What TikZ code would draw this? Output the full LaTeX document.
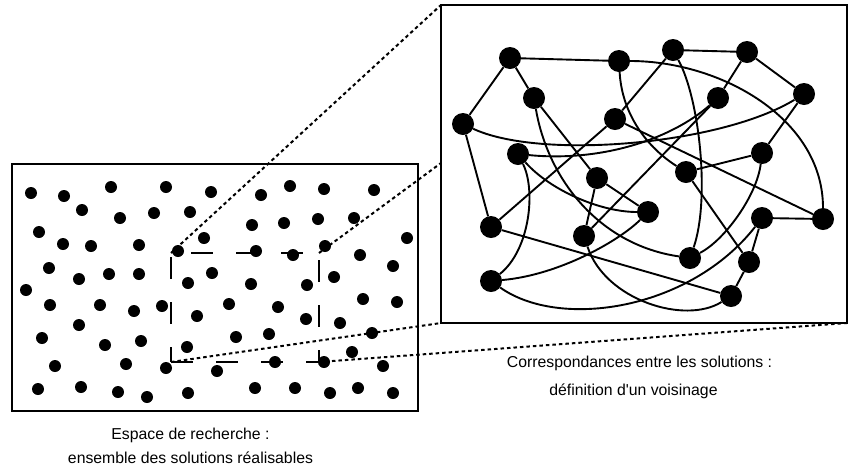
\documentclass[tikz,border=0pt]{standalone}
\usepackage{fontspec}
\setmainfont{Liberation Sans}[Ligatures=TeXOff]
\begin{document}
\begin{tikzpicture}[x=1pt,y=-1pt,
  dot/.style={circle,fill=black,inner sep=0pt,minimum size=12pt},
  gnode/.style={circle,fill=black,inner sep=0pt,minimum size=22pt},
  edge/.style={line width=1.9pt},
  frame/.style={draw,line width=1.9pt,outer sep=0pt,inner sep=0pt},
  zoomline/.style={line width=2pt,dash pattern=on 3.5pt off 3pt},
  zoomrect/.style={line width=1.7pt},
  lab/.style={font=\fontsize{15.8}{19}\selectfont,inner sep=0pt}]
\useasboundingbox (0,0) rectangle (848,475);

% frames
\node[frame,minimum width=406pt,minimum height=247pt] (L) at (215,287.5) {};
\node[frame,minimum width=406pt,minimum height=318pt] (R) at (644,164) {};

% search-space dots
\foreach \x/\y [count=\i] in {31/193,64/196,111/187,166/187,211/192,82/210,120/218,154/213,190/212,
  39/232,63/244,91/246,139/245,204/238,178/251,49/268,79/279,109/274,139/274,212/273,188/283,
  26/290,50/305,100/305,134/311,162/306,197/316,79/325,42/338,105/345,141/341,187/347,
  55/366,126/364,166/368,217/371,38/389,81/387,118/392,147/397,188/393,
  261/195,290/186,324/189,374/190,252/225,284/223,318/219,354/218,407/238,
  256/251,293/255,325/246,360/255,393/266,251/284,307/285,334/277,
  229/304,278/307,306/319,340/323,363/299,397/302,236/337,269/334,372/333,
  275/362,324/362,352/352,383/366,255/388,295/388,330/393,358/388,393/393}
  \node[dot] (d\i) at (\x,\y) {};

% zoom rectangle
\coordinate (zTL) at (171,253);
\coordinate (zTR) at (319,253);
\coordinate (zBL) at (171,362);
\coordinate (zBR) at (319,362);
\draw[zoomrect,dash pattern=on 22pt off 23pt,dash phase=25pt] (zTL) -- (zTR);
\draw[zoomrect,dash pattern=on 22pt off 23pt,dash phase=41pt] (zTL) -- (zBL);
\draw[zoomrect,dash pattern=on 22pt off 23pt,dash phase=0pt] (zBL) -- (zBR);
\draw[zoomrect,dash pattern=on 22pt off 23pt,dash phase=38pt] (zTR) -- (zBR);

% zoom lines
\coordinate (rmid) at (441,163);
\draw[zoomline] (zTL) -- (R.north west);
\draw[zoomline] (zTR) -- (rmid);
\draw[zoomline] (zBL) -- (R.south west);
\draw[zoomline] (zBR) -- (R.south east);

% graph nodes
\node[gnode] (A) at (510,58) {};
\node[gnode] (B) at (619,61) {};
\node[gnode] (G) at (673,50) {};
\node[gnode] (H) at (747,52) {};
\node[gnode] (C) at (534,98) {};
\node[gnode] (D) at (615,119) {};
\node[gnode] (I) at (718,98) {};
\node[gnode] (J) at (804,94) {};
\node[gnode] (E) at (463,124) {};
\node[gnode] (F) at (518,154) {};
\node[gnode] (K) at (762,153) {};
\node[gnode] (Lq) at (686,172) {};
\node[gnode] (M) at (597,178) {};
\node[gnode] (Q) at (648,212) {};
\node[gnode] (N) at (491,227) {};
\node[gnode] (O) at (584,236) {};
\node[gnode] (Rr) at (762,218) {};
\node[gnode] (S) at (823,219) {};
\node[gnode] (P) at (491,281) {};
\node[gnode] (T) at (690,258) {};
\node[gnode] (U) at (749,262) {};
\node[gnode] (V) at (731,296) {};

% straight edges
\draw[edge] (A) -- (B);
\draw[edge] (A) -- (E);
\draw[edge] (A) -- (C);
\draw[edge] (C) -- (M);
\draw[edge] (D) -- (G);
\draw[edge] (D) -- (N);
\draw[edge] (D) -- (S);
\draw[edge] (E) -- (N);
\draw[edge] (G) -- (H);
\draw[edge] (H) -- (I);
\draw[edge] (H) -- (J);
\draw[edge] (J) -- (K);
\draw[edge] (K) -- (Lq);
\draw[edge] (Lq) -- (U);
\draw[edge] (M) -- (O);
\draw[edge] (M) -- (Q);
\draw[edge] (O) -- (I);
\draw[edge] (N) -- (V);
\draw[edge] (Rr) -- (S);
\draw[edge] (Rr) -- (U);
\draw[edge] (U) -- (V);

% curved edges
\draw[edge] (B) .. controls (720,61) and (823,118) .. (S);
\draw[edge] (B) .. controls (622,115) and (648,148) .. (Lq);
\draw[edge] (C) .. controls (548,180) and (600,245) .. (T);
\draw[edge] (E) .. controls (540,160) and (720,145) .. (J);
\draw[edge] (F) .. controls (600,162) and (670,140) .. (I);
\draw[edge] (F) .. controls (536,190) and (530,250) .. (P);
\draw[edge] (F) .. controls (550,190) and (600,212) .. (Q);
\draw[edge] (G) .. controls (700,100) and (710,200) .. (T);
\draw[edge] (K) .. controls (757,195) and (725,240) .. (T);
\draw[edge] (O) .. controls (605,300) and (685,325) .. (V);
\draw[edge] (P) .. controls (560,330) and (690,310) .. (Rr);
\draw[edge] (P) .. controls (560,275) and (620,240) .. (Q);

% labels
\node[lab] (t1) at (639.5,363) {Correspondances entre les solutions :};
\node[lab] (t2) at (633.5,391) {définition d'un voisinage};
\node[lab] (t3) at (190.5,435) {Espace de recherche :};
\node[lab] (t4) at (190.5,458) {ensemble des solutions réalisables};
\end{tikzpicture}
\end{document}
